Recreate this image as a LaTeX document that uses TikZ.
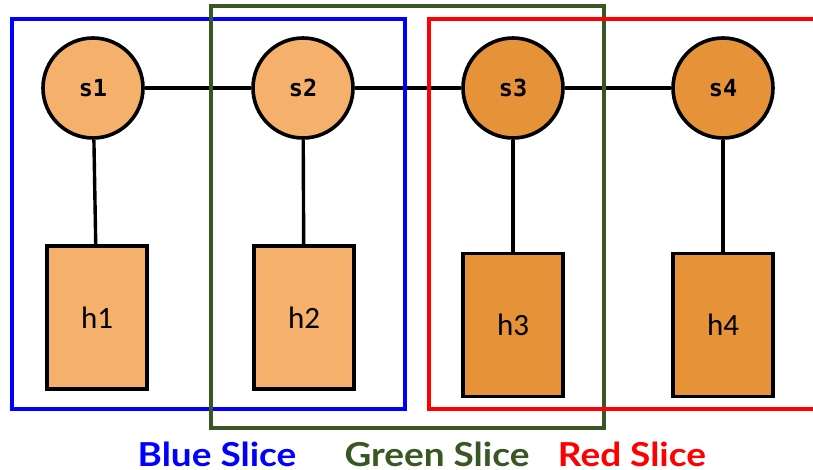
\documentclass[tikz,border=0pt]{standalone}
\usepackage{fontspec}
\setmainfont{Carlito}
\newfontfamily\statefont{DejaVu Sans Mono}
\newfontfamily\labelfont{Lato}
\definecolor{lightorange}{RGB}{245,177,107}
\definecolor{darkorange}{RGB}{230,146,57}
\definecolor{sliceblue}{RGB}{0,0,255}
\definecolor{slicegreen}{RGB}{56,87,35}
\definecolor{slicered}{RGB}{255,0,0}
\tikzset{
  statenode/.style={circle, draw=black, line width=3.6pt, minimum size=100pt, inner sep=0pt,
    font=\statefont\bfseries\fontsize{23.5}{27}\selectfont},
  hidnode/.style={rectangle, draw=black, line width=3.6pt, minimum width=100pt, minimum height=143pt,
    inner sep=0pt, font=\fontsize{31}{36}\selectfont},
  link/.style={line width=3.4pt, black},
  slice/.style={line width=3.4pt},
  slicelabel/.style={font=\labelfont\bfseries\fontsize{33}{38}\selectfont, inner sep=0pt, anchor=base}
}
\newcommand{\widetext}[1]{\scalebox{1.12}[1]{#1}}
\begin{document}
\begin{tikzpicture}[x=1pt,y=-1pt]
\useasboundingbox (0,0) rectangle (813,470);
% state nodes
\node[statenode, fill=lightorange] (s1) at (93,88) {s1};
\node[statenode, fill=lightorange] (s2) at (303,88) {s2};
\node[statenode, fill=darkorange] (s3) at (513,88) {s3};
\node[statenode, fill=darkorange] (s4) at (723,88) {s4};
% hidden boxes
\node[hidnode, fill=lightorange] (h1) at (97,317.5) {h1};
\node[hidnode, fill=lightorange] (h2) at (304,317.5) {h2};
\node[hidnode, fill=darkorange] (h3) at (513,325) {h3};
\node[hidnode, fill=darkorange] (h4) at (723,325) {h4};
% chain and emissions
\draw[link] (s1) -- (s2);
\draw[link] (s2) -- (s3);
\draw[link] (s3) -- (s4);
\draw[link] (s1) -- (h1);
\draw[link] (s2) -- (h2);
\draw[link] (s3) -- (h3);
\draw[link] (s4) -- (h4);
% slices
\draw[slice, sliceblue] (12,19) rectangle (405,409);
\draw[slice, slicegreen] (211,6) rectangle (604,428);
\draw[slice, slicered] (815,19) -- (429,19) -- (429,409) -- (815,409);
% slice labels
\node[slicelabel, text=sliceblue] (lb) at (217,466) {\widetext{Blue Slice}};
\node[slicelabel, text=slicegreen] (lg) at (437,466) {\widetext{Green Slice}};
\node[slicelabel, text=slicered] (lr) at (632,466) {\widetext{Red Slice}};
\end{tikzpicture}
\end{document}
